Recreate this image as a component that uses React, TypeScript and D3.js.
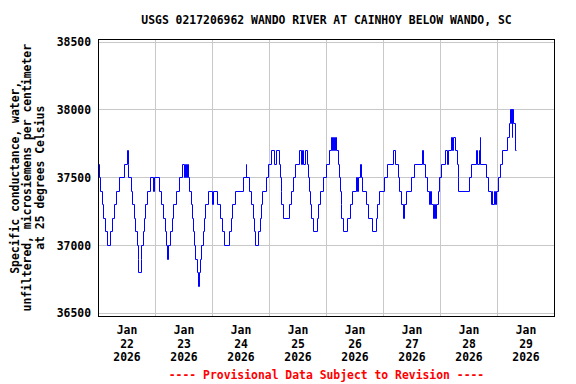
import * as d3 from "d3";

// hours after 2026-01-22 00:00 where the 15-minute reading changes, and the new value (uS/cm)
const changeHours = [
  0, 0.5, 0.75, 1.75, 2.25, 2.75, 3.75, 5.25, 6, 6.75, 7.75, 9, 10.75, 12.25, 12.5, 12.75,
  13.75, 14.25, 15, 15.5, 16.25, 16.75, 17, 18, 18.25, 18.75, 19.5, 19.75, 20.75, 22, 23.25, 23.75,
  25.5, 26.5, 27.5, 28, 28.5, 29, 29.5, 30.25, 31, 31.75, 32.75, 34.25, 35.5, 36.25, 36.5, 37.25,
  37.5, 38, 38.25, 39, 39.5, 40, 40.5, 41, 41.5, 42, 42.5, 42.75, 43.25, 44, 44.75, 45.25,
  46.5, 48, 48.5, 50.25, 51.25, 52, 53.25, 55.25, 56, 56.5, 57.5, 61, 62.25, 62.5, 63.5, 64.25,
  65.25, 65.75, 66.25, 67.25, 68, 68.75, 69.25, 70.75, 71.5, 72.75, 74, 74.75, 76, 76.5, 77, 77.25,
  78, 80.5, 81.25, 82, 83, 84.75, 85.5, 86, 86.5, 87, 88, 88.25, 88.75, 89.25, 89.75, 90.5,
  92, 92.75, 93.5, 94.75, 96, 97.25, 98, 98.5, 99, 99.5, 99.75, 100.25, 101, 101.5, 101.75, 102.25,
  102.5, 103.25, 105, 106, 106.75, 108.5, 109, 109.5, 110.5, 110.75, 111.25, 112.75, 113.5, 115.5, 117, 117.5,
  118.5, 120.5, 121.5, 124.25, 125.25, 126.25, 126.75, 127.5, 128.5, 129, 129.75, 131.75, 133, 136.5, 136.75, 137.75,
  138.5, 139.25, 139.75, 140.25, 141, 141.5, 141.75, 142.5, 143, 143.75, 144.5, 146.25, 146.75, 147.25, 148.75, 149.25,
  149.5, 150.25, 151, 151.5, 151.75, 156, 157.25, 159.25, 159.75, 160.25, 160.75, 161, 163.5, 164.25, 165.5, 165.75,
  166, 166.75, 167, 167.75, 168.25, 169.25, 170, 172.25, 173, 173.5, 173.75, 174, 174.25, 174.5, 174.75, 175.75,
  176,
];
const changeValues = [
  37600, 37500, 37400, 37300, 37200, 37100, 37000, 37100, 37200, 37300, 37400, 37500, 37600, 37700, 37600, 37500,
  37400, 37300, 37200, 37100, 37000, 36900, 36800, 36900, 37000, 37100, 37200, 37300, 37400, 37500, 37400, 37500,
  37400, 37300, 37200, 37100, 37000, 36900, 37000, 37100, 37200, 37300, 37400, 37500, 37600, 37500, 37600, 37500,
  37600, 37500, 37400, 37300, 37200, 37100, 37000, 36900, 36800, 36700, 36800, 36900, 37000, 37100, 37200, 37300,
  37400, 37300, 37400, 37300, 37200, 37100, 37000, 37100, 37200, 37300, 37400, 37500, 37600, 37500, 37400, 37300,
  37200, 37100, 37000, 37100, 37200, 37300, 37400, 37500, 37600, 37700, 37600, 37700, 37600, 37500, 37400, 37300,
  37200, 37300, 37400, 37500, 37600, 37700, 37600, 37700, 37600, 37700, 37600, 37500, 37400, 37300, 37200, 37100,
  37200, 37300, 37400, 37500, 37600, 37700, 37800, 37700, 37800, 37700, 37800, 37700, 37600, 37500, 37400, 37300,
  37200, 37100, 37200, 37300, 37400, 37500, 37400, 37500, 37600, 37500, 37400, 37300, 37200, 37100, 37200, 37300,
  37400, 37500, 37600, 37700, 37600, 37500, 37400, 37300, 37200, 37300, 37400, 37500, 37600, 37700, 37600, 37500,
  37400, 37300, 37400, 37300, 37200, 37300, 37200, 37300, 37400, 37500, 37600, 37700, 37600, 37700, 37800, 37700,
  37800, 37700, 37600, 37500, 37400, 37500, 37600, 37700, 37600, 37700, 37800, 37600, 37500, 37400, 37300, 37400,
  37300, 37400, 37300, 37400, 37500, 37600, 37700, 37800, 37900, 38000, 37900, 38000, 37800, 38000, 37900, 37700,
  37700,
];

const yTicks = [36500, 37000, 37500, 38000, 38500];
const dayLabels = ["22", "23", "24", "25", "26", "27", "28", "29"];
const title = "USGS 0217206962 WANDO RIVER AT CAINHOY BELOW WANDO, SC";
const yLabelLines = [
  "Specific conductance, water,",
  "unfiltered, microsiemens per centimeter",
  "at 25 degrees Celsius",
];
const footer = "---- Provisional Data Subject to Revision ----";

const start = new Date(2026, 0, 22);
const HOUR = 3600 * 1000;

export default function App() {
  const width = 576;
  const height = 384;
  const margin = { top: 39.5, right: 21.5, bottom: 68, left: 98.5 };
  const font = "'DejaVu Sans Mono', monospace";

  const x = d3
    .scaleTime()
    .domain([start, new Date(2026, 0, 30)])
    .range([margin.left, width - margin.right]);
  const y = d3
    .scaleLinear()
    .domain([36480, 38520])
    .range([height - margin.bottom, margin.top]);

  const data = changeHours.map((h, i) => ({
    t: new Date(start.getTime() + h * HOUR),
    v: changeValues[i],
  }));

  const snap = (v: number) => Math.round(v - 0.5) + 0.5;

  // pixel-snapped step line so the 1px blue strokes stay solid
  const line = d3
    .line<{ t: Date; v: number }>()
    .x((d) => snap(x(d.t)))
    .y((d) => snap(y(d.v)))
    .curve(d3.curveStepAfter);

  const days = d3.timeDay.range(start, new Date(2026, 0, 31));
  const left = margin.left;
  const right = width - margin.right;
  const top = margin.top;
  const bottom = height - margin.bottom;
  const midY = (top + bottom) / 2;
  const midX = (left + right) / 2;

  return (
    <svg
      width={width}
      height={height}
      style={{ position: "absolute", left: 0, top: 0, background: "#fff" }}
      fontFamily={font}
      fontWeight="bold"
      fontSize={11.4}
    >
      <text x={midX} y={24} textAnchor="middle" fill="#000">
        {title}
      </text>

      {/* grid */}
      <g stroke="#c8c8c8" strokeWidth={1} shapeRendering="crispEdges">
        {days.slice(1, -1).map((d, i) => (
          <line key={"vx" + i} x1={snap(x(d))} x2={snap(x(d))} y1={top} y2={bottom} />
        ))}
        {yTicks.map((t) => (
          <line key={"hy" + t} x1={left} x2={right} y1={snap(y(t))} y2={snap(y(t))} />
        ))}
      </g>

      <path d={line(data) || ""} fill="none" stroke="#0000ff" strokeWidth={1} />

      <rect
        x={left}
        y={top}
        width={right - left}
        height={bottom - top}
        fill="none"
        stroke="#000"
        strokeWidth={1}
        shapeRendering="crispEdges"
      />

      {yTicks.map((t) => (
        <text key={"yl" + t} x={91} y={y(t) + 4} textAnchor="end" fill="#000">
          {t}
        </text>
      ))}

      {dayLabels.map((lab, i) => {
        const cx = x(new Date(start.getTime() + (i * 24 + 12) * HOUR));
        return (
          <g key={"xl" + lab} textAnchor="middle" fill="#000">
            <text x={cx} y={334}>Jan</text>
            <text x={cx} y={347.5}>{lab}</text>
            <text x={cx} y={361}>2026</text>
          </g>
        );
      })}

      {yLabelLines.map((s, i) => (
        <text
          key={"yt" + i}
          transform={`translate(${18.5 + i * 12.5},${midY}) rotate(-90)`}
          textAnchor="middle"
          fill="#000"
        >
          {s}
        </text>
      ))}

      <text x={midX} y={379} textAnchor="middle" fill="#ff0000">
        {footer}
      </text>
    </svg>
  );
}
